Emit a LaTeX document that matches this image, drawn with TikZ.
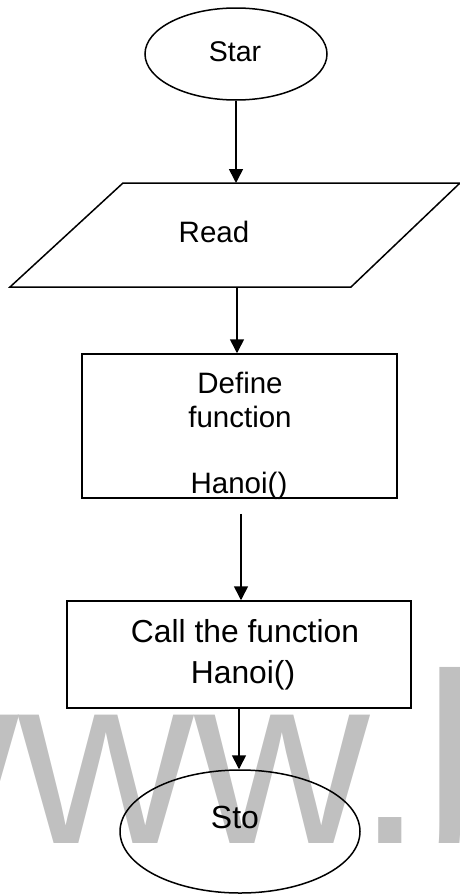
\documentclass[tikz,border=0pt]{standalone}
\usepackage{fontspec}
\setmainfont{Liberation Sans}
\usetikzlibrary{shapes.geometric,arrows.meta}
\definecolor{wmgray}{RGB}{192,192,192}
\tikzset{
  arr/.style={line width=1.6pt,-{Triangle[length=14pt,width=14pt]}},
  outline/.style={draw,line width=1.5pt},
  term/.style={outline,ellipse,inner sep=0pt},
  procbox/.style={outline,rectangle,inner sep=0pt},
  lbl/.style={anchor=base,inner sep=0pt,font=\fontsize{29.5}{35}\selectfont},
  lblbig/.style={anchor=base,inner sep=0pt,font=\fontsize{31.8}{38}\selectfont},
}
\begin{document}
\begin{tikzpicture}[x=1pt,y=-1pt]
\useasboundingbox (0,0) rectangle (460,894);
% background watermark
\begin{scope}
  \clip (0,0) rectangle (460,894);
  \node[anchor=base west,inner sep=0pt,text=wmgray,
        font=\fontsize{243}{250}\selectfont] (wm) at (-157,843) {www.b};
\end{scope}

% start
\node[term,minimum width=182pt,minimum height=92pt] (star) at (236,54) {};
\node[anchor=base,inner sep=0pt,font=\fontsize{28.5}{34}\selectfont] (startxt) at (235,61) {Star};

% input
\coordinate (readtop) at (236,183);
\coordinate (readbot) at (237,287);
\draw[line width=1.5pt,line join=miter] (123,183) -- (460,183) -- (351,287) -- (10,287) -- cycle;
\node[lbl] (readtxt) at (214,242) {Read};

% define function
\node[procbox,minimum width=315pt,minimum height=144pt] (def) at (239.5,426) {};
\node[lbl] (deftxt1) at (240,393) {Define};
\node[lbl] (deftxt2) at (240,427) {function};
\node[lbl] (deftxt3) at (239,493) {Hanoi()};

% call
\node[procbox,minimum width=344pt,minimum height=107pt] (call) at (239,654.5) {};
\node[lblbig] (calltxt1) at (245,642) {Call the function};
\node[lblbig] (calltxt2) at (243,683) {Hanoi()};

% stop
\node[term,minimum width=240pt,minimum height=123pt] (sto) at (240,831.5) {};
\node[anchor=base,inner sep=0pt,font=\fontsize{32}{38}\selectfont] (stotxt) at (235,828) {Sto};

% connectors
\draw[arr] (star.south) -- (readtop);
\draw[arr] (readbot) -- (readbot |- def.north);
\draw[arr,shorten <=15pt] ([xshift=1.5pt]def.south) -- ([xshift=1.5pt]def.south |- call.north);
\draw[arr] (call.south) -- (call.south |- sto.north);
\end{tikzpicture}
\end{document}
